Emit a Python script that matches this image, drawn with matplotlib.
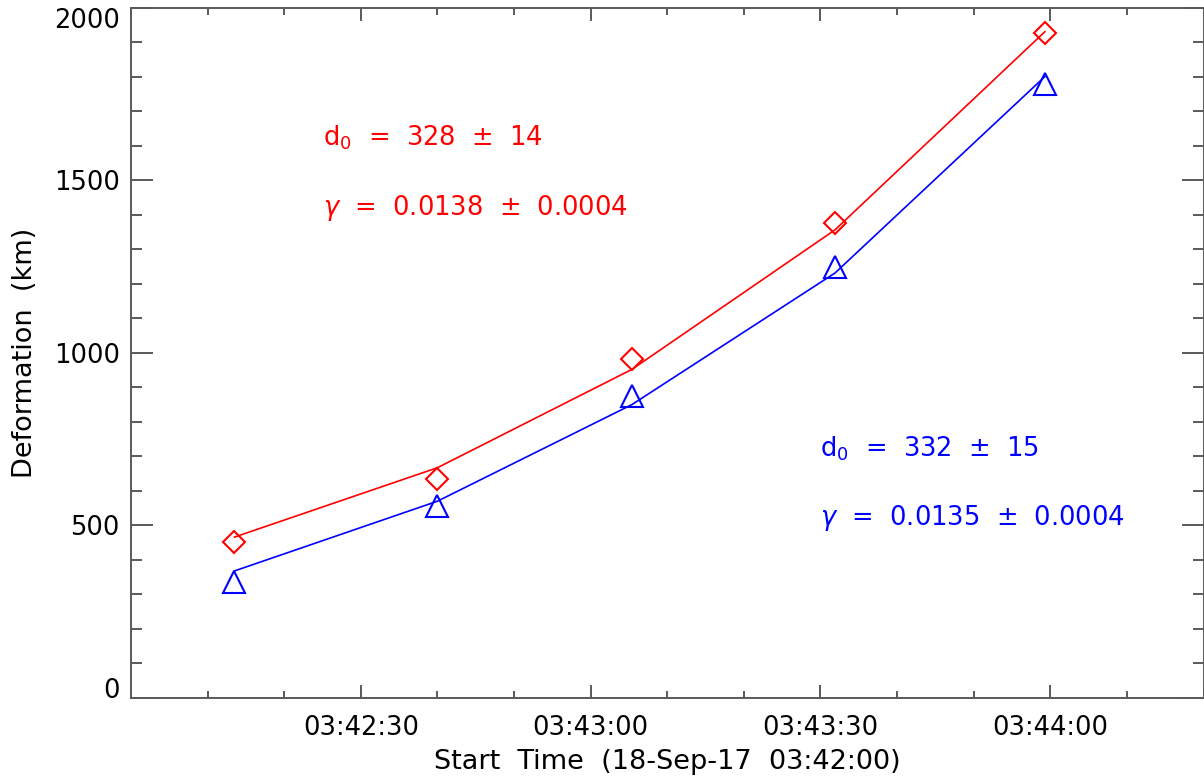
import matplotlib
matplotlib.use('Agg')
import matplotlib.pyplot as plt
import numpy as np
from matplotlib.ticker import MultipleLocator, FixedLocator

# Thời gian bắt đầu (giây kể từ 03:42:00)
t_sec = [13.5, 40.0, 65.4, 91.9, 119.3]

# Biến dạng đo được (km)
d_red = [452, 635, 982, 1375, 1925]
d_blue = [337, 555, 874, 1247, 1778]

# Đường khớp hàm mũ tại các thời điểm đo
fit_red = [466, 667, 952, 1356, 1930]
fit_blue = [368, 570, 850, 1231, 1800]

xtick_pos = [30, 60, 90, 120]
xtick_lab = ['03:42:30', '03:43:00', '03:43:30', '03:44:00']
ytick_pos = [0, 500, 1000, 1500, 2000]

plt.rcParams['font.family'] = ['DejaVu Sans']
plt.rcParams['mathtext.fontset'] = 'dejavusans'

W, H = 1204, 783
fig = plt.figure(figsize=(W / 100, H / 100), dpi=100)
ax = fig.add_axes([131 / W, (H - 698) / H, (1203.5 - 131) / W, (698 - 7.5) / H])

ax.plot(t_sec, fit_red, color='red', lw=1.2)
ax.plot(t_sec, d_red, ls='none', marker='D', ms=11, mfc='none', mec='red', mew=1.5)
ax.plot(t_sec, fit_blue, color='blue', lw=1.2)
ax.plot(t_sec, d_blue, ls='none', marker='^', ms=16, mfc='none', mec='blue', mew=1.5)

ax.set_xlim(0, 140)
ax.set_ylim(0, 2000)

ax.xaxis.set_major_locator(FixedLocator(xtick_pos))
ax.set_xticklabels(xtick_lab)
ax.xaxis.set_minor_locator(MultipleLocator(10))
ax.yaxis.set_major_locator(FixedLocator(ytick_pos))
ax.yaxis.set_minor_locator(MultipleLocator(100))

axis_col = '#5a5a5a'
for s in ax.spines.values():
    s.set_color(axis_col)
    s.set_linewidth(1.4)

ax.tick_params(axis='both', which='both', direction='in', top=True, right=True,
               color=axis_col, width=1.4, labelsize=18.5, labelcolor='black')
ax.tick_params(axis='x', which='major', length=9.4, pad=12)
ax.tick_params(axis='x', which='minor', length=5.2)
ax.tick_params(axis='y', which='major', length=15.8, pad=8)
ax.tick_params(axis='y', which='minor', length=7.9)

# nhãn trục y ở hai đầu được kéo vào trong khung
ylabs = ax.get_yticklabels()
ylabs[0].set_va('baseline')
ylabs[-1].set_va('top')

ax.set_xlabel('Start  Time  (18-Sep-17  03:42:00)', fontsize=19.5, va='baseline')
ax.xaxis.set_label_coords(0.5, -(769 - 698) / 690.5)
ax.set_ylabel('Deformation  (km)', fontsize=19.5)
ax.yaxis.set_label_coords(-(131 - 12) / 1072.5, 0.5)
ax.yaxis.label.set_va('top')

ax.text(25, 1600, 'd$_0$  =  328  \u00b1  14', color='red', fontsize=18.5, va='baseline')
ax.text(25, 1400, '$\\gamma$  =  0.0138  \u00b1  0.0004', color='red', fontsize=18.5, va='baseline')
ax.text(90, 700, 'd$_0$  =  332  \u00b1  15', color='blue', fontsize=18.5, va='baseline')
ax.text(90, 500, '$\\gamma$  =  0.0135  \u00b1  0.0004', color='blue', fontsize=18.5, va='baseline')

fig.savefig('out.png', dpi=100)
